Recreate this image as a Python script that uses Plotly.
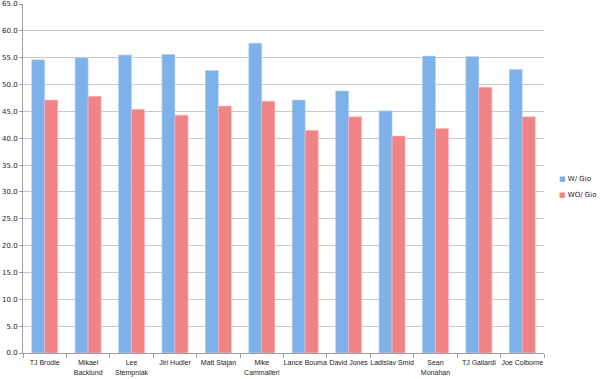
import plotly.graph_objects as go

players = ["TJ Brodie", "Mikael<br>Backlund", "Lee<br>Stempniak", "Jiri Hudler", "Matt Stajan",
           "Mike<br>Cammalleri", "Lance Bouma", "David Jones", "Ladislav Smid", "Sean<br>Monahan",
           "TJ Galiardi", "Joe Colborne"]
with_gio = [54.6, 55.0, 55.5, 55.6, 52.6, 57.7, 47.1, 48.8, 45.1, 55.3, 55.2, 52.8]
without_gio = [47.1, 47.8, 45.4, 44.3, 46.0, 46.9, 41.5, 44.0, 40.4, 41.8, 49.5, 44.0]
y_ticks = [i * 5 for i in range(14)]
series_names = ["W/ Gio", "WO/ Gio"]
series_colors = ["#7eb0ea", "#f08383"]

fig = go.Figure()
fig.add_trace(go.Bar(x=players, y=with_gio, name=series_names[0], showlegend=False,
                     marker=dict(color=series_colors[0], line=dict(color="#b9d5f5", width=0.6))))
fig.add_trace(go.Bar(x=players, y=without_gio, name=series_names[1], showlegend=False,
                     marker=dict(color=series_colors[1], line=dict(color="#fbbcbc", width=0.6))))

# legend drawn as text entries in the right margin
for i, (nm, col) in enumerate(zip(series_names, series_colors)):
    fig.add_annotation(xref="paper", yref="paper", x=1.025, y=0.5 - i * 0.046,
                       xanchor="left", yanchor="middle", showarrow=False,
                       text=f"<span style='color:{col}'>■</span> {nm}",
                       font=dict(family="DejaVu Sans", size=7, color="#222222"))

fig.update_layout(
    width=600, height=379,
    margin=dict(l=23, r=56, t=4, b=26, autoexpand=False),
    paper_bgcolor="white", plot_bgcolor="white",
    barmode="group", bargap=0.4, bargroupgap=0,
    font=dict(family="DejaVu Sans", size=7, color="#222222"),
    showlegend=False,
    xaxis=dict(type="category", showline=True, linecolor="#a0a0a0", linewidth=1,
               ticks="outside", tickson="boundaries", ticklen=4, tickcolor="#a0a0a0",
               showgrid=False, tickangle=0, automargin=False, ticklabelstandoff=3,
               tickfont=dict(family="Liberation Sans", size=7)),
    yaxis=dict(range=[0, 65], tickvals=y_ticks, tickformat=".1f",
               showline=True, linecolor="#a0a0a0", linewidth=1,
               ticks="outside", ticklen=3, tickcolor="#a0a0a0", automargin=False,
               showgrid=True, gridcolor="#c8c8c8", gridwidth=1, zeroline=False),
)

fig.write_html("out.html", config={"displayModeBar": False},
               post_script="document.body.style.margin='0';")
